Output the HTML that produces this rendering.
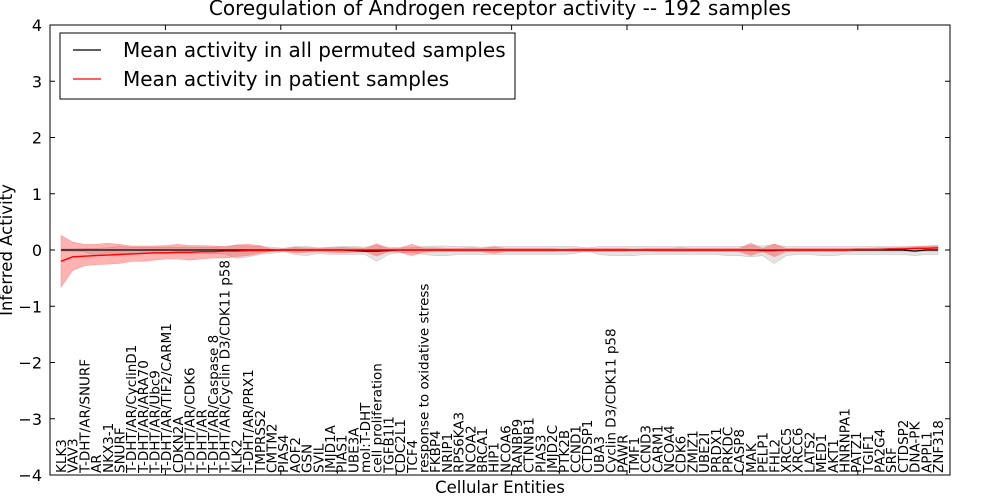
<!DOCTYPE html>
<html><head><meta charset="utf-8"><style>
body{margin:0;background:#fff}
svg{display:block;font-family:"DejaVu Sans","Liberation Sans",sans-serif}
</style></head><body>
<svg id="chart" width="1000" height="500" viewBox="0 0 1000 500">
<rect x="0" y="0" width="1000" height="500" fill="#fff"/>
<text x="500" y="15" text-anchor="middle" font-size="20">Coregulation of Androgen receptor activity -- 192 samples</text>
<text transform="translate(12,250) rotate(-90)" text-anchor="middle" font-size="16.5">Inferred Activity</text>
<text x="500" y="493" text-anchor="middle" font-size="16.5">Cellular Entities</text>
<g id="plot"></g>
</svg>
<script>
const categories=["KLK3","VAV3","T-DHT/AR/SNURF","AR","NKX3-1","SNURF","T-DHT/AR/CyclinD1","T-DHT/AR/ARA70","T-DHT/AR/Ubc9","T-DHT/AR/TIF2/CARM1","CDKN2A","T-DHT/AR/CDK6","T-DHT/AR","T-DHT/AR/Caspase 8","T-DHT/AR/Cyclin D3/CDK11 p58","KLK2","T-DHT/AR/PRX1","TMPRSS2","CMTM2","PIAS4","AOF2","GSN","SVIL","JMJD1A","PIAS1","UBE3A","mol:T-DHT","cell proliferation","TGFB1I1","CDC2L1","TCF4","response to oxidative stress","FKBP4","NRIP1","RPS6KA3","NCOA2","BRCA1","HIP1","NCOA6","RANBP9","CTNNB1","PIAS3","JMJD2C","PTK2B","CCND1","CTDSP1","UBA3","Cyclin D3/CDK11 p58","PAWR","TMF1","CCND3","CARM1","NCOA4","CDK6","ZMIZ1","UBE2I","PRDX1","PRKDC","CASP8","MAK","PELP1","FHL2","XRCC5","XRCC6","LATS2","MED1","AKT1","HNRNPA1","PATZ1","TGIF1","PA2G4","SRF","CTDSP2","DNA-PK","APPL1","ZNF318"];
const patientMean=[-0.2,-0.12,-0.11,-0.1,-0.09,-0.08,-0.07,-0.06,-0.05,-0.05,-0.04,-0.04,-0.03,-0.03,-0.02,-0.02,-0.01,-0.01,-0.01,0,0,0,0,0,0,0,0,0,0,0,0,0,0,0,0,0,0,0,0,0,0,0,0,0,0,0,0,0,0,0,0,0,0,0,0,0,0,0,0,0,0,0,0,0,0,0,0,0,0.01,0.01,0.01,0.02,0.02,0.03,0.03,0.04];
const patientUpper=[0.26,0.14,0.1,0.1,0.12,0.1,0.07,0.07,0.07,0.08,0.1,0.08,0.08,0.07,0.06,0.09,0.1,0.08,0.02,0.02,0.05,0.04,0.03,0.04,0.05,0.04,0.03,0.11,0.03,0.04,0.1,0.04,0.04,0.03,0.03,0.04,0.03,0.06,0.03,0.03,0.03,0.03,0.03,0.02,0.03,0.03,0.03,0.03,0.03,0.02,0.03,0.03,0.03,0.04,0.03,0.03,0.03,0.03,0.03,0.12,0.03,0.11,0.03,0.03,0.03,0.03,0.03,0.03,0.03,0.03,0.04,0.04,0.05,0.06,0.07,0.08];
const patientLower=[-0.66,-0.36,-0.28,-0.26,-0.25,-0.24,-0.2,-0.2,-0.18,-0.16,-0.16,-0.18,-0.16,-0.14,-0.14,-0.12,-0.1,-0.06,-0.02,-0.02,-0.05,-0.04,-0.03,-0.04,-0.05,-0.04,-0.03,-0.11,-0.03,-0.04,-0.1,-0.04,-0.03,-0.03,-0.03,-0.03,-0.03,-0.06,-0.03,-0.03,-0.03,-0.03,-0.03,-0.02,-0.03,-0.03,-0.03,-0.03,-0.03,-0.02,-0.02,-0.03,-0.03,-0.03,-0.03,-0.03,-0.03,-0.03,-0.03,-0.1,-0.03,-0.12,-0.03,-0.03,-0.03,-0.03,-0.03,-0.03,-0.02,-0.02,-0.02,-0.02,-0.02,-0.02,-0.02,-0.02];
const permutedMean=[0,0,0,0,0,0,0,0,0,0,0,0,0,0,0,0,0,0,0,0,0,0,0,0,0,-0.01,-0.02,-0.02,-0.01,0,0,0,0,0,0,0,0,0,0,0,0,0,0,0,0,0,0,0,0,0,0,0,0,0,0,0,0,0,0,0,-0.01,-0.01,0,0,0,0,0,0,0,0,0,0,0,-0.02,0,0];
const permutedUpper=[0.02,0.02,0.03,0.03,0.04,0.06,0.05,0.05,0.05,0.05,0.05,0.05,0.05,0.05,0.06,0.08,0.07,0.06,0.05,0.03,0.06,0.06,0.04,0.05,0.06,0.06,0.05,0.08,0.05,0.04,0.04,0.06,0.07,0.07,0.06,0.06,0.05,0.06,0.06,0.06,0.06,0.06,0.06,0.06,0.06,0.04,0.06,0.06,0.06,0.06,0.06,0.06,0.06,0.06,0.06,0.06,0.06,0.06,0.06,0.08,0.07,0.1,0.06,0.06,0.06,0.06,0.06,0.06,0.06,0.06,0.06,0.06,0.06,0.06,0.06,0.06];
const permutedLower=[-0.02,-0.02,-0.03,-0.1,-0.05,-0.08,-0.06,-0.06,-0.06,-0.06,-0.06,-0.06,-0.06,-0.06,-0.07,-0.15,-0.12,-0.08,-0.06,-0.03,-0.08,-0.1,-0.06,-0.08,-0.08,-0.08,-0.08,-0.2,-0.08,-0.04,-0.04,-0.08,-0.1,-0.1,-0.08,-0.08,-0.08,-0.08,-0.08,-0.08,-0.08,-0.08,-0.08,-0.08,-0.06,-0.02,-0.08,-0.1,-0.1,-0.1,-0.08,-0.08,-0.08,-0.08,-0.08,-0.08,-0.08,-0.1,-0.1,-0.12,-0.1,-0.24,-0.1,-0.08,-0.08,-0.1,-0.1,-0.08,-0.08,-0.08,-0.08,-0.08,-0.08,-0.1,-0.08,-0.08];
const yTicks=[-4,-3,-2,-1,0,1,2,3,4];
const legendLabels=["Mean activity in all permuted samples","Mean activity in patient samples"];

const L=50,R=950,T=25,B=475;
const ns="http://www.w3.org/2000/svg";
const g=document.getElementById('plot');
function y(v){return T+(4-v)/8*(B-T);}
function x(i){return 61+i*(938-61)/(categories.length-1);}
function mk(tag,attrs){const e=document.createElementNS(ns,tag);for(const k in attrs)e.setAttribute(k,attrs[k]);g.appendChild(e);return e;}
function band(up,lo){let d='M';up.forEach((v,i)=>{d+=(i?' L':'')+x(i).toFixed(1)+','+y(v).toFixed(1);});for(let i=lo.length-1;i>=0;i--)d+=' L'+x(i).toFixed(1)+','+y(lo[i]).toFixed(1);return d+' Z';}
function line(arr){return arr.map((v,i)=>(i?'L':'M')+x(i).toFixed(1)+','+y(v).toFixed(1)).join(' ');}

const gb=mk('path',{d:band(permutedUpper,permutedLower),fill:'#808080','fill-opacity':'0.22',stroke:'#c8c8c8','stroke-width':'0.6'});


const rb=mk('path',{d:band(patientUpper,patientLower),fill:'#ff0000','fill-opacity':'0.3',stroke:'#f99','stroke-width':'0.6'});


const bl=mk('path',{d:line(permutedMean),fill:'none',stroke:'#000','stroke-width':'1.2'});


const rl=mk('path',{d:line(patientMean),fill:'none',stroke:'#ff0000','stroke-width':'1.4'});



categories.forEach((c,i)=>{
  const t=mk('text',{transform:'translate('+(x(i)+5).toFixed(1)+','+(B-2)+') rotate(-90)','font-size':'13.5'});
  t.textContent=c;
  
  
});

const frame=mk('rect',{x:L,y:T,width:R-L,height:B-T,fill:'none',stroke:'#000','stroke-width':'1'});



yTicks.forEach(v=>{
  const yy=y(v);
  const t1=mk('line',{x1:L,x2:L+5,y1:yy,y2:yy,stroke:'#000'});
  
  
  const t2=mk('line',{x1:R-5,x2:R,y1:yy,y2:yy,stroke:'#000'});
  
  
  const lb=mk('text',{x:L-8,y:yy+6,'text-anchor':'end','font-size':'16'});
  lb.textContent=v<0?'\u2212'+Math.abs(v):String(v);
  
  
});
for(let k=1;k<=7;k++){
  const xx=L+k*115.4;
  const a=mk('line',{x1:xx,x2:xx,y1:T,y2:T+5,stroke:'#000'});
  
  
  const b=mk('line',{x1:xx,x2:xx,y1:B-5,y2:B,stroke:'#000'});
  
  
}

const lg=mk('rect',{x:60,y:33,width:455,height:66,fill:'#fff',stroke:'#000','stroke-width':'1'});


const colors=['#000','#ff0000'];
legendLabels.forEach((s,i)=>{
  const yy=50+i*29;
  const ln=mk('line',{x1:73,x2:101,y1:yy,y2:yy,stroke:colors[i],'stroke-width':'1.2'});
  
  
  const t=mk('text',{x:123,y:yy+7,'font-size':'20'});
  t.textContent=s;
  
  
});
</script>
</body></html>
